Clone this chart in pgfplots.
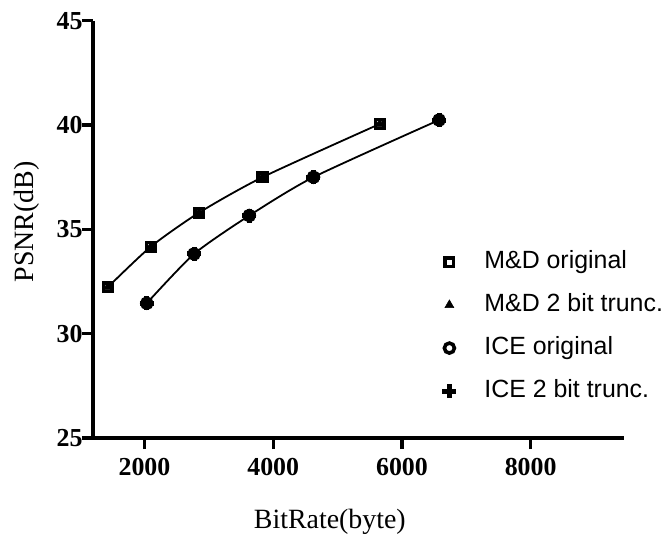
\documentclass[border=0pt]{standalone}
\usepackage{fontspec}
\setmainfont{Liberation Serif}
\newfontfamily\legfont{Liberation Sans}
\usepackage{pgfplots}
\pgfplotsset{compat=1.18}

\pgfplotstableread{
x y
1431 32.23
2098 34.17
2848 35.80
3834 37.50
5654 40.05
}\md

\pgfplotstableread{
x y
2036 31.46
2770 33.82
3628 35.66
4625 37.50
6577 40.24
}\ice

\begin{document}
\begin{tikzpicture}
\begin{axis}[
  scale only axis, width=531bp, height=417.3bp,
  xmin=1200, xmax=9450, ymin=25, ymax=45,
  axis x line=bottom, axis y line=left,
  axis line style={-, line width=3.8bp},
  xtick={2000,4000,6000,8000}, ytick={25,30,35,40,45},
  tick align=outside,
  major tick length=11bp,
  tick style={line width=3.3bp, black},
  scaled x ticks=false,
  /pgf/number format/1000 sep={},
  /pgf/number format/assume math mode=true,
  tick label style={font=\fontsize{26}{26}\selectfont\bfseries},
  xticklabel style={yshift=-6bp},
  yticklabel style={xshift=4bp},
  xlabel={BitRate(byte)},
  ylabel={PSNR(dB)},
  label style={font=\fontsize{28}{28}\selectfont},
  xlabel style={at={(axis description cs:0.446,-0.2157)}, anchor=base},
  ylabel style={at={(axis description cs:-0.1243,0.5176)}, anchor=center, rotate=0},
  legend style={draw=none, fill=none, font=\legfont\fontsize{25}{25}\selectfont,
    at={(axis description cs:0.652,0.267)}, anchor=west,
    row sep=17bp, nodes={text height=17bp, text depth=5bp, inner sep=2bp},
    /tikz/every odd column/.append style={column sep=26bp}},
  legend cell align=left,
  clip=false,
]
\addplot[black, line width=1.8bp, smooth, tension=0.4, forget plot] table {\md};
\addplot[black, line width=1.8bp, smooth, tension=0.4, forget plot] table {\ice};
\addplot[only marks, mark=square, mark size=4.3bp, mark options={line width=3.5bp, fill=white, draw=black}] table {\md};
\addlegendentry{M\&D original}
\addplot[only marks, mark=triangle*, mark size=5.2bp, mark options={line width=0.5bp, fill=black, draw=black}] table {\md};
\addlegendentry{M\&D 2 bit trunc.}
\addplot[only marks, mark=o, mark size=5bp, mark options={line width=3.6bp, draw=black}] table {\ice};
\addlegendentry{ICE original}
\addplot[only marks, mark=+, mark size=7bp, mark options={line width=5bp, draw=black}] table {\ice};
\addlegendentry{ICE 2 bit trunc.}
\end{axis}
\pgfresetboundingbox
\path[use as bounding box] (-93bp,-105bp) rectangle (578bp,438bp);
\end{tikzpicture}
\end{document}
